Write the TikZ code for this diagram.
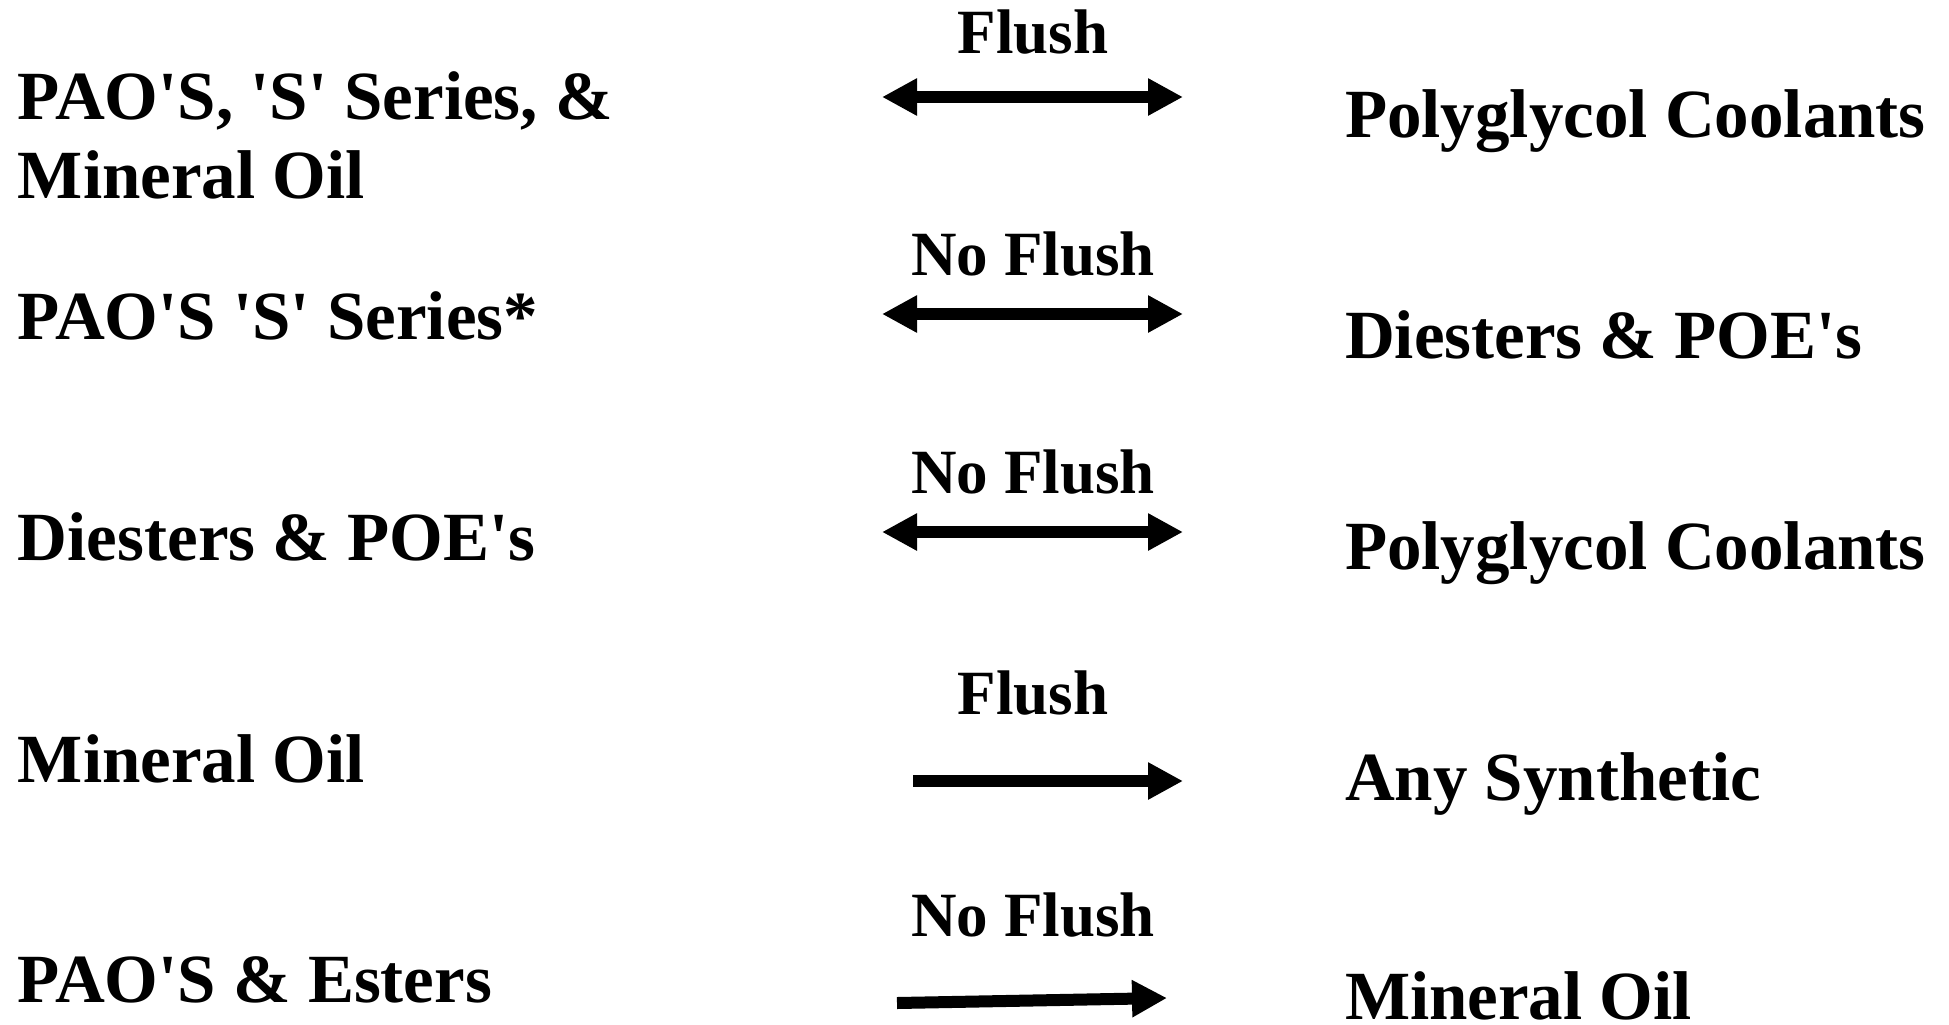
\documentclass[tikz,border=0pt]{standalone}
\usepackage{fontspec}
\setmainfont{Liberation Serif}
\usetikzlibrary{arrows.meta}
\newcommand\sqt{\textquotesingle}
\begin{document}
\begin{tikzpicture}[x=0.5pt,y=-0.5pt,
  main/.style={anchor=base west, inner sep=0pt, outer sep=0pt, font=\bfseries\fontsize{34.5}{39.5}\selectfont},
  lbl/.style={anchor=base, inner sep=0pt, outer sep=0pt, font=\bfseries\fontsize{31.5}{36}\selectfont},
  tipshape/.style={},
  oneway/.style={line width=6pt, -{Triangle[length=17.5pt,width=17.5pt]}},
  twoway/.style={line width=6pt, {Triangle[length=17.5pt,width=17.5pt]}-{Triangle[length=17.5pt,width=17.5pt]}}]
\useasboundingbox (0,0) rectangle (1949,1024);

% left column
\node[main] (l1a) at (18,119) {PAO\sqt S, \sqt S\sqt{} Series, \&};
\node[main] (l1b) at (18,198) {Mineral Oil};
\node[main] (l2) at (18,339) {PAO\sqt S \sqt S\sqt{} Series*};
\node[main] (l3) at (18,560) {Diesters \& POE\sqt s};
\node[main] (l4) at (18,782) {Mineral Oil};
\node[main] (l5) at (18,1002) {PAO\sqt S \& Esters};

% right column
\node[main] (r1) at (1345,137) {Polyglycol Coolants};
\node[main] (r2) at (1345,358) {Diesters \& POE\sqt s};
\node[main] (r3) at (1345,569) {Polyglycol Coolants};
\node[main] (r4) at (1345,800) {Any Synthetic};
\node[main] (r5) at (1345,1019) {Mineral Oil};

% labels
\node[lbl] (t1) at (1033,53) {Flush};
\node[lbl] (t2) at (1033,275) {No Flush};
\node[lbl] (t3) at (1033,493) {No Flush};
\node[lbl] (t4) at (1033,714) {Flush};
\node[lbl] (t5) at (1033,936) {No Flush};

% arrow ends
\coordinate (a1s) at (882,97);  \coordinate (a1e) at (1183,97);
\coordinate (a2s) at (882,314); \coordinate (a2e) at (1183,314);
\coordinate (a3s) at (882,532); \coordinate (a3e) at (1183,532);
\coordinate (a4s) at (913,781); \coordinate (a4e) at (1183,781);
\coordinate (a5s) at (897,1003); \coordinate (a5e) at (1167,998);

\draw[twoway] (a1s) -- (a1e);
\draw[twoway] (a2s) -- (a2e);
\draw[twoway] (a3s) -- (a3e);
\draw[oneway] (a4s) -- (a4e);
\draw[oneway] (a5s) -- (a5e);
\end{tikzpicture}
\end{document}
